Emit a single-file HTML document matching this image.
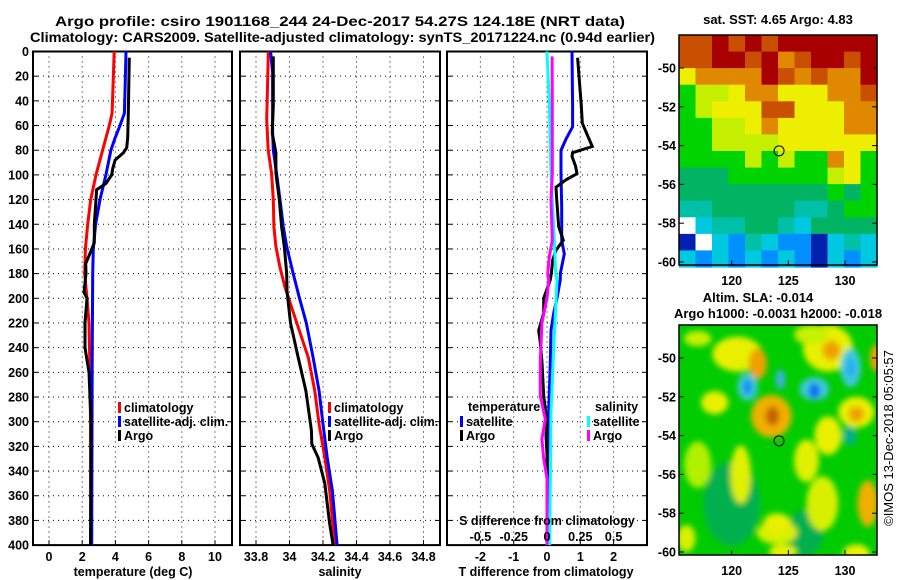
<!DOCTYPE html>
<html><head><meta charset="utf-8"><style>
html,body{margin:0;padding:0;background:#fff;}
svg{display:block;font-family:"Liberation Sans",sans-serif;font-weight:bold;}
</style></head><body>
<svg id="chart" width="900" height="580" viewBox="0 0 900 580" xmlns="http://www.w3.org/2000/svg">
<defs>
<filter id="blur" x="-50%" y="-50%" width="200%" height="200%"><feGaussianBlur stdDeviation="3"/></filter>
<clipPath id="clipSla"><rect x="679" y="325" width="198" height="230"/></clipPath>
</defs>
<text x="55" y="26" font-size="14" textLength="570" lengthAdjust="spacingAndGlyphs">Argo profile: csiro 1901168_244 24-Dec-2017 54.27S 124.18E (NRT data)</text>
<text x="30" y="42" font-size="14" textLength="625" lengthAdjust="spacingAndGlyphs">Climatology: CARS2009. Satellite-adjusted climatology: synTS_20171224.nc (0.94d earlier)</text>
<g id="panels"></g>
<g id="maps"></g>
</svg>
<script>
// ---------- data ----------
const depthTicks = [0,20,40,60,80,100,120,140,160,180,200,220,240,260,280,300,320,340,360,380,400];
const tempTicks = [0,2,4,6,8,10];
const salTicks = [33.8,34,34.2,34.4,34.6,34.8];
const salTickLabels = ["33.8","34","34.2","34.4","34.6","34.8"];
const tdiffTicks = [-2,-1,0,1,2];
const sdiffTicks = [-0.5,-0.25,0,0.25,0.5];
const sdiffTickLabels = ["-0.5","-0.25","0","0.25","0.5"];

const tClimDepth = [0,50,60,80,100,120,140,160,180,200,220,260,300,400];
const tClim = [3.93,3.8,3.63,3.23,2.83,2.51,2.33,2.19,2.15,2.29,2.41,2.47,2.5,2.53];
const tSatDepth = [0,20,50,60,70,80,100,120,140,160,180,250,400];
const tSat = [4.64,4.6,4.54,4.28,3.98,3.73,3.43,3.07,2.81,2.67,2.63,2.6,2.57];
const tArgoDepth = [5,50,70,78,82,88,95,100,107,112,120,140,155,165,172,180,195,200,220,240,260,300,400];
const tArgo = [4.84,4.78,4.74,4.68,4.48,3.98,3.84,3.78,3.43,2.87,2.83,2.73,2.73,2.43,2.21,2.23,2.11,2.29,2.17,2.17,2.41,2.53,2.5];

const sClimDepth = [0,6,55,80,99,120,142,158,175,191,221,248,275,302,329,356,400];
const sClim = [33.873,33.873,33.864,33.873,33.893,33.903,33.907,33.919,33.943,33.973,34.046,34.112,34.151,34.177,34.211,34.24,34.27];
const sSatDepth = [0,17,44,66,80,99,120,142,158,180,199,220,248,275,302,329,356,400];
const sSat = [33.887,33.899,33.899,33.899,33.903,33.923,33.943,33.963,33.983,34.022,34.058,34.1,34.141,34.177,34.2,34.225,34.256,34.284];
const sArgoDepth = [4,44,66,82,99,120,142,158,180,194,220,248,275,307,318,329,350,383,400];
const sArgo = [33.903,33.903,33.897,33.919,33.919,33.939,33.953,33.969,33.983,33.985,34.006,34.052,34.098,34.131,34.133,34.171,34.211,34.24,34.26];

const dtArgoDepth = [5,44,58,69,77,82,85,93,99,104,110,120,142,153,161,169,180,185,200,212,226,236,252,279,300,312,326,347,400];
const dtArgo = [0.92,1.03,1.06,1.23,1.36,0.77,0.75,0.86,0.9,0.57,0.27,0.29,0.35,0.49,0.27,0.17,0.13,0.1,-0.1,-0.1,-0.25,-0.2,-0.15,-0.1,0,-0.03,0,0,0];
const dtSatDepth = [0,44,61,71,80,99,126,153,164,180,185,200,212,226,252,292,400];
const dtSat = [0.75,0.77,0.77,0.57,0.42,0.42,0.44,0.44,0.52,0.4,0.4,0.3,0.2,0.12,0.1,0.05,0.05];
const dsSatDepth = [0,44,99,153,180,185,212,240,292,400];
const dsSat = [0,0.018,0.03,0.055,0.065,0.075,0.063,0.05,0.03,0.02];
const dsArgoDepth = [4,44,99,120,153,166,180,185,200,220,252,279,298,314,330,346,400];
const dsArgo = [0.038,0.04,0.04,0.03,0.04,0.018,0.005,0.0125,0,-0.038,-0.05,-0.05,-0.0125,-0.038,-0.025,0,0];

const sstRows = [
"ooRoRoRRRRRR",
"ooRRoROoRRoR",
"YOOOORoOoOOR",
"GLLYOOYYYOOo",
"GLYYYooYYYOO",
"GGLLYOYYYYOO",
"GGLLLLYYYYYY",
"GGGGLGLGGOYG",
"gggGGGGGGLYG",
"gggggggggGgG",
"TTgggggTTgGG",
"WCTTggTCgggg",
"DWCBTCBBDCTC",
"CBCBCBCBDCBC"];
const sstColors = {R:"#a80000",o:"#c85000",O:"#e08800",Y:"#eeee00",L:"#c4f000",G:"#00d400",g:"#00b464",T:"#00c0a8",C:"#00c8e0",B:"#0090ff",D:"#0020b0",W:"#ffffff"};

const slaLon = [120,126.5,128.5,117,120.5,122.3,128.5,128.8,132.8,118.5,131,131,120.8,126.6,128,132,124,116,124.5,131,124,123.5,123.6,121.4,121.4,124.3,127.3,127.3,130.5,130.5,130.4,117,127];
const slaLat = [-57.5,-59,-54,-55.5,-49.8,-50.3,-49.5,-49.6,-50,-52.3,-52.8,-52.9,-56,-55.3,-57.5,-57.5,-59,-59.3,-60,-60.1,-58.5,-53,-53,-51.5,-51.5,-51.1,-51.6,-51.7,-50.5,-50.5,-54,-49,-48.8];
const slaRx = [2.5,1.6,1.2,1.2,2.2,0.8,2.2,0.8,0.6,1.2,1.6,0.7,0.9,1.1,1.4,0.9,1.8,0.8,1.2,1.2,1.2,1.8,0.6,0.9,0.4,0.4,1.3,0.5,0.9,0.4,0.6,1.2,1.5];
const slaRy = [2.2,1.2,1.0,1.2,0.9,0.8,1.2,0.5,0.7,0.6,0.8,0.4,1.5,1.1,1.4,1.2,0.6,0.7,0.4,0.5,0.5,1.1,0.5,0.7,0.4,0.5,0.6,0.4,1.0,0.5,0.5,0.4,0.5];
const slaCol = ["#00b050","#00b050","#e8f000","#b0f000","#e8f000","#f0a000","#e8f000","#f0a000","#f0a000","#e8f000","#e8f000","#f0a000","#e0f000","#e0f000","#d8f000","#f0b000","#d8f000","#d8f000","#e8f000","#e8f000","#e8f000","#f0b000","#c86000","#40c8e0","#0090f0","#40b0f0","#40c8e0","#0070f0","#40c8e0","#20b0f0","#00b090","#c8f000","#c8f000"];

// ---------- helpers ----------
const NS="http://www.w3.org/2000/svg";
function mk(tag, attrs, parent){const e=document.createElementNS(NS,tag);for(const k in attrs)e.setAttribute(k,attrs[k]);parent.appendChild(e);return e;}
const Y0=51.5, YK=1.234;
function yD(d){return Y0+YK*d;}
const panels=document.getElementById('panels');
const maps=document.getElementById('maps');
const yBot=yD(400);
const FS=12.5;

function panel(name,x0,x1,xfn,ticks,tickLabels){
  const g=mk('g',{},panels);
  
  
  depthTicks.forEach(d=>{
    const y=yD(d);
    if(d>0&&d<400){const l=mk('line',{x1:x0,x2:x1,y1:y,y2:y,stroke:'#000','stroke-width':1,'stroke-dasharray':'1,4'},g);
    
    }
    mk('line',{x1:x0,x2:x0+5,y1:y,y2:y,stroke:'#000'},g);
    mk('line',{x1:x1-5,x2:x1,y1:y,y2:y,stroke:'#000'},g);
  });
  ticks.forEach((v,i)=>{
    const x=xfn(v);
    const l=mk('line',{x1:x,x2:x,y1:Y0,y2:yBot,stroke:'#000','stroke-width':1,'stroke-dasharray':'1,4'},g);
    
    
    mk('line',{x1:x,x2:x,y1:yBot-5,y2:yBot,stroke:'#000'},g);
    const t=mk('text',{x:x,y:561,'font-size':FS,'text-anchor':'middle'},g);
    t.textContent=tickLabels?tickLabels[i]:String(v);
    
    
  });
  const r=mk('rect',{x:x0,y:Y0,width:x1-x0,height:yBot-Y0,fill:'none',stroke:'#000','stroke-width':2},g);
  
  
  return g;
}
function series(g,name,depths,vals,xfn,color){
  const pts=depths.map((d,i)=>xfn(vals[i]).toFixed(1)+','+yD(d).toFixed(1)).join(' ');
  const p=mk('polyline',{points:pts,fill:'none',stroke:color,'stroke-width':3,'stroke-linejoin':'miter'},g);
  
  
}
function legend(g,x,y,color,label,name){
  const b=mk('rect',{x:x,y:y-10,width:3,height:11,fill:color},g);
  
  
  const t=mk('text',{x:x+6,y:y,'font-size':12.5},g);
  t.textContent=label;
  
  
}
function label(g,x,y,txt,name,anchor,size){
  const t=mk('text',{x:x,y:y,'font-size':size||FS,'text-anchor':anchor||'middle'},g);
  t.textContent=txt;
  
  
  return t;
}

depthTicks.forEach(d=>{
  const t=mk('text',{x:29,y:yD(d)+4.5,'font-size':FS,'text-anchor':'end'},panels);
  t.textContent=String(d);
  
  
});

const xT=v=>49+16.6*v;
const gT=panel('temperature-panel',33,232,xT,tempTicks);
series(gT,'temp-climatology-line',tClimDepth,tClim,xT,'#ff0000');
series(gT,'temp-satellite-line',tSatDepth,tSat,xT,'#0000ff');
series(gT,'temp-argo-line',tArgoDepth,tArgo,xT,'#000000');
legend(gT,118,412,'#ff0000','climatology','temp-legend-climatology');
legend(gT,118,426,'#0000ff','satellite-adj. clim.','temp-legend-satellite');
legend(gT,118,440,'#000000','Argo','temp-legend-argo');
label(gT,133,576,'temperature (deg C)','temperature-axis-title');

const xS=v=>256+167.5*(v-33.8);
const gS=panel('salinity-panel',240,440,xS,salTicks,salTickLabels);
series(gS,'sal-climatology-line',sClimDepth,sClim,xS,'#ff0000');
series(gS,'sal-satellite-line',sSatDepth,sSat,xS,'#0000ff');
series(gS,'sal-argo-line',sArgoDepth,sArgo,xS,'#000000');
legend(gS,328,412,'#ff0000','climatology','sal-legend-climatology');
legend(gS,328,426,'#0000ff','satellite-adj. clim.','sal-legend-satellite');
legend(gS,328,440,'#000000','Argo','sal-legend-argo');
label(gS,340,576,'salinity','salinity-axis-title');

const xDT=v=>547+33.3*v;
const xDS=v=>547+133.2*v;
const gD=panel('difference-panel',447,647,xDT,tdiffTicks);
series(gD,'tdiff-satellite-line',dtSatDepth,dtSat,xDT,'#0000ff');
series(gD,'tdiff-argo-line',dtArgoDepth,dtArgo,xDT,'#000000');
series(gD,'sdiff-satellite-line',dsSatDepth,dsSat,xDS,'#00ffff');
series(gD,'sdiff-argo-line',dsArgoDepth,dsArgo,xDS,'#ff00ff');
label(gD,468,411,'temperature','diff-legend-temperature-heading','start');
legend(gD,460,426,'#0000ff','satellite','tdiff-legend-satellite');
legend(gD,460,440,'#000000','Argo','tdiff-legend-argo');
label(gD,595,411,'salinity','diff-legend-salinity-heading','start');
legend(gD,587,426,'#00ffff','satellite','sdiff-legend-satellite');
legend(gD,587,440,'#ff00ff','Argo','sdiff-legend-argo');
label(gD,547,525,'S difference from climatology','s-diff-axis-title');
sdiffTicks.forEach((v,i)=>{
  label(gD,xDS(v),541,sdiffTickLabels[i],'s-diff-tick-label');
});
label(gD,546,576,'T difference from climatology','t-diff-axis-title');

// ---------- maps ----------
const lonX=lon=>731.7+(lon-120)*11.33;
const mapLats=[-50,-52,-54,-56,-58,-60];
const mapLons=[120,125,130];
function mapFrame(name,top,lat50){
  const g=mk('g',{},maps);
  
  
  mk('rect',{x:679,y:top,width:198,height:230,fill:'none',stroke:'#000','stroke-width':1.5},g);
  mapLats.forEach(la=>{
    const y=lat50+(-50-la)*19.4;
    mk('line',{x1:679,x2:684,y1:y,y2:y,stroke:'#000'},g);
    mk('line',{x1:872,x2:877,y1:y,y2:y,stroke:'#000'},g);
    label(g,676,y+4.5,String(la),'lat-tick-label','end');
  });
  mapLons.forEach(lo=>{
    const x=lonX(lo);
    mk('line',{x1:x,x2:x,y1:top+230,y2:top+225,stroke:'#000'},g);
    label(g,x,top+250,String(lo),'lon-tick-label');
  });
  const c=mk('circle',{cx:lonX(124.18),cy:lat50+4.27*19.4,r:5,fill:'none',stroke:'#000','stroke-width':1},g);
  
  
}
const gSst=mk('g',{},maps);


const cw=198/12, ch=232/14;
sstRows.forEach((row,r)=>{
  for(let c=0;c<row.length;c++){
    mk('rect',{x:(679+c*cw).toFixed(1),y:(35+r*ch).toFixed(1),width:(cw+0.6).toFixed(1),height:(ch+0.6).toFixed(1),fill:sstColors[row[c]]},gSst);
  }
});
mapFrame('sst-map',35,68);
label(maps,778,24,'sat. SST: 4.65 Argo: 4.83','sst-map-title','middle',13);

const gSla=mk('g',{'clip-path':'url(#clipSla)'},maps);


mk('rect',{x:679,y:325,width:198,height:230,fill:'#00cc00'},gSla);
const gBl=mk('g',{filter:'url(#blur)'},gSla);
slaLon.forEach((lo,i)=>{
  mk('ellipse',{cx:lonX(lo),cy:358+(-50-slaLat[i])*19.4,rx:slaRx[i]*11.33,ry:slaRy[i]*19.4,fill:slaCol[i]},gBl);
});
mapFrame('sla-map',325,358);
label(maps,758,302,'Altim. SLA: -0.014','sla-map-title','middle',13);
label(maps,778,318,'Argo h1000: -0.0031 h2000: -0.018','sla-map-subtitle','middle',13);
const cp=label(maps,0,0,'©IMOS 13-Dec-2018 05:05:57','copyright-label','middle',13);
cp.setAttribute('transform','translate(893,438) rotate(-90)');
cp.setAttribute('font-weight','normal');
</script>
</body></html>
